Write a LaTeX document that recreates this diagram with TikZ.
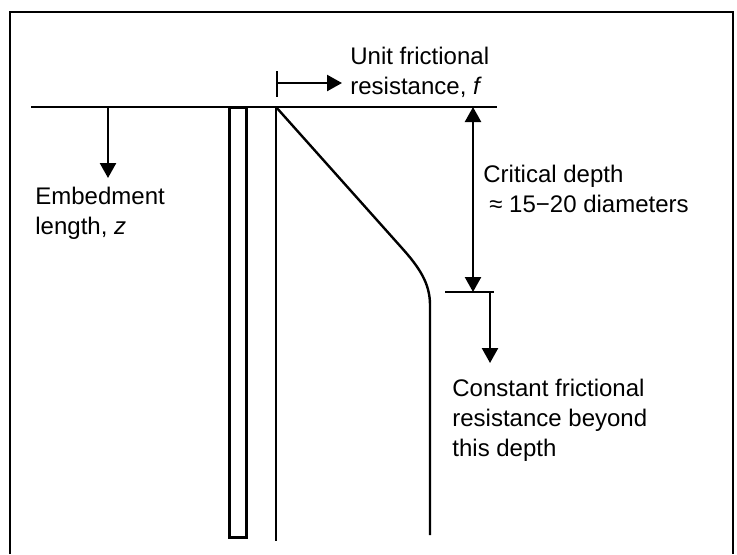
\documentclass[tikz,border=0pt]{standalone}
\usepackage{fontspec}
\setmainfont{Liberation Sans}
\usetikzlibrary{arrows.meta}

\tikzset{
  lbl/.style={anchor=north west, inner sep=0pt, align=left,
              font=\fontsize{12}{15}\selectfont},
  ln/.style={line width=1.2pt},
  arr/.style={line width=1.2pt, -{Triangle[length=7.5pt,width=8pt]}},
  darr/.style={line width=1.2pt, {Triangle[length=7.5pt,width=8pt]}-{Triangle[length=7.5pt,width=8pt]}},
}

\begin{document}
\begin{tikzpicture}[x=0.5pt,y=-0.5pt]
\useasboundingbox (0,0) rectangle (737,554) ;

% frame
\draw [line width=1pt] (10,554) -- (10,12) -- (733,12) -- (733,554) ;

% ground surface
\coordinate (gl) at (31,107) ;
\coordinate (gr) at (497,107) ;
\draw [ln] (gl) -- (gr) ;

% pile
\draw [line width=1.5pt] (229,107) rectangle (246,537) ;

% f axis and distribution with depth
\coordinate (f0) at (276,107) ;
\coordinate (fb) at (276,541) ;
\coordinate (cv) at (430,305) ;
\coordinate (cb) at (430,535) ;
\draw [ln] (f0) -- (fb) ;
\draw [ln] (f0) -- (401,247) .. controls (419,267) and (430,283) .. (cv) -- (cb) ;

% embedment length
\coordinate (e0) at (108,107) ;
\coordinate (e1) at (108,178) ;
\draw [arr] (e0) -- (e1) ;
\node (emb) [lbl] at (35,187) {Embedment\\length, \textit{z}} ;

% unit frictional resistance
\coordinate (t0) at (277,71) ;
\coordinate (t1) at (277,97) ;
\coordinate (a0) at (277,83) ;
\coordinate (a1) at (342,83) ;
\draw [ln] (t0) -- (t1) ;
\draw [arr] (a0) -- (a1) ;
\node (unit) [lbl] at (350,47) {Unit frictional\\resistance, \textit{f}} ;

% critical depth
\coordinate (c0) at (473,107) ;
\coordinate (c1) at (473,292) ;
\draw [darr] (c0) -- (c1) ;
\node (crit) [lbl] at (483,165) {Critical depth\\\hspace{3pt}≈ 15−20 diameters} ;

% constant beyond critical depth
\coordinate (k0) at (445,292) ;
\coordinate (k1) at (494,292) ;
\coordinate (d0) at (490,292) ;
\coordinate (d1) at (490,363) ;
\draw [ln] (k0) -- (k1) ;
\draw [arr] (d0) -- (d1) ;
\node (const) [lbl] at (452,379) {Constant frictional\\resistance beyond\\this depth} ;

\end{tikzpicture}
\end{document}
